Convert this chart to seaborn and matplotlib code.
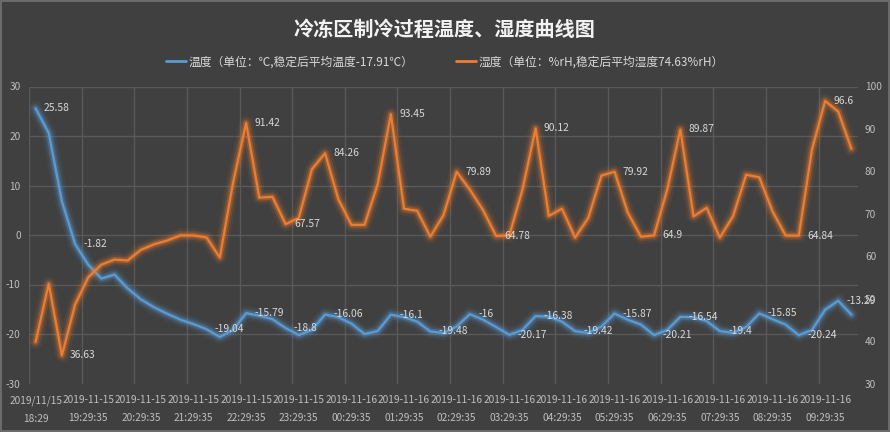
import numpy as np
import pandas as pd
import matplotlib
matplotlib.use("Agg")
import matplotlib.pyplot as plt
import matplotlib.patheffects as pe
from matplotlib.lines import Line2D
import seaborn as sns

# =========================================
# DATA (15 min steps)
# =========================================

temp = [25.58, 20.6, 6.8, -1.82, -6.0, -8.8, -8.0, -10.8, -13.0, -14.6,
        -15.9, -17.1, -18.0, -19.04, -20.6, -19.2, -15.79, -16.3, -17.0, -18.8,
        -20.2, -19.2, -16.06, -16.6, -17.9, -20.0, -19.4, -16.1, -16.6, -17.5,
        -19.48, -19.8, -18.5, -16.0, -17.1, -18.6, -20.17, -19.2, -16.38, -16.5,
        -17.5, -19.42, -19.8, -18.5, -15.87, -17.1, -18.1, -20.21, -19.2, -16.54,
        -16.6, -17.4, -19.4, -19.8, -18.6, -15.85, -17.0, -18.1, -20.24, -19.2,
        -15.1, -13.29, -16.1]

humid = [39.8, 53.5, 36.63, 48.6, 55.0, 58.0, 59.2, 59.0, 61.5, 62.8,
         63.7, 64.9, 64.9, 64.4, 59.7, 77.2, 91.42, 73.8, 74.0, 67.57,
         69.0, 80.5, 84.26, 73.5, 67.4, 67.4, 77.0, 93.45, 71.2, 70.7,
         64.6, 69.7, 79.89, 75.7, 70.9, 64.78, 64.9, 75.7, 90.12, 69.5,
         71.2, 64.4, 69.0, 79.0, 79.92, 70.3, 64.6, 64.9, 75.7, 89.87,
         69.4, 71.4, 64.4, 69.4, 79.2, 78.6, 70.6, 64.9, 64.84, 85.1,
         96.6, 94.1, 85.3]

# which points carry a value label
temp_label_idx = [0, 3, 13, 16, 19, 22, 27, 30, 33, 36, 38, 41, 44, 47, 49, 52, 55, 58, 61]
humid_label_idx = [2, 16, 19, 22, 27, 32, 35, 38, 44, 47, 49, 58, 60]

tick_labels = ["2019/11/15\n18:29"] + \
    [f"2019-11-15\n{h:02d}:29:35" for h in range(19, 24)] + \
    [f"2019-11-16\n{h:02d}:29:35" for h in range(0, 10)]

title = "冷冻区制冷过程温度、湿度曲线图"
temp_name = "温度（单位：℃,稳定后平均温度-17.91℃）"
humid_name = "湿度（单位：%rH,稳定后平均湿度74.63%rH）"

# =========================================
# STYLE
# =========================================

BG = "#404040"
GRID = "#595959"
TXT = "#d9d9d9"
TICK = "#bfbfbf"
BLUE = "#5b9bd5"
ORANGE = "#ed7d31"

sns.set_theme(style="dark")
plt.rcParams["font.family"] = ["Noto Sans CJK SC", "DejaVu Sans"]
plt.rcParams["axes.unicode_minus"] = False

df = pd.DataFrame({"idx": np.arange(len(temp)), "temp": temp, "humid": humid})

fig = plt.figure(figsize=(8.9, 4.32), dpi=100, facecolor=BG)
fig.patch.set_edgecolor("#6a6a6a")
fig.patch.set_linewidth(1.5)

ax = fig.add_axes([29 / 890, 1 - 383.5 / 432, (858 - 29) / 890, (383.5 - 86.5) / 432])
ax.set_facecolor(BG)
ax2 = ax.twinx()
ax2.patch.set_visible(False)


def glow(c):
    return [pe.Stroke(linewidth=10, foreground=c, alpha=0.08),
            pe.Stroke(linewidth=6.5, foreground=c, alpha=0.16),
            pe.Stroke(linewidth=4, foreground=c, alpha=0.3),
            pe.Normal()]


sns.lineplot(data=df, x="idx", y="temp", ax=ax, color=BLUE, lw=1.6)
ax.lines[-1].set_path_effects(glow(BLUE))
sns.lineplot(data=df, x="idx", y="humid", ax=ax2, color=ORANGE, lw=1.6)
ax2.lines[-1].set_path_effects(glow(ORANGE))

# value labels
for i in temp_label_idx:
    ax.annotate(f"{temp[i]:g}", (i, temp[i]), xytext=(6, 0), textcoords="offset points",
                ha="left", va="center", fontsize=7.4, color=TXT, zorder=5)
for i in humid_label_idx:
    ax2.annotate(f"{humid[i]:g}", (i, humid[i]), xytext=(6, 0), textcoords="offset points",
                 ha="left", va="center", fontsize=7.4, color=TXT, zorder=5)

# axes
n = len(temp)
ax.set_xlim(-0.5, n - 0.5)
ax.set_ylim(-30, 30)
ax2.set_ylim(30, 100)
ax.set_yticks(np.arange(-30, 31, 10))
ax2.set_yticks(np.arange(30, 101, 10))
ax.set_xticks(np.arange(0, n, 4))
ax.set_xticklabels(tick_labels, linespacing=2.0)
ax.set_xticks(np.arange(-0.5, n - 1, 4), minor=True)

ax.grid(False)
ax2.grid(False)
ax.grid(axis="y", which="major", color=GRID, lw=1)
ax.grid(axis="x", which="minor", color=GRID, lw=1)
ax.yaxis.get_gridlines()[0].set_visible(False)

for a in (ax, ax2):
    for s in a.spines.values():
        s.set_visible(False)
    a.set_xlabel("")
    a.set_ylabel("")
ax.tick_params(axis="x", which="both", length=0, pad=8.5, labelsize=7.3, colors=TICK)
ax.tick_params(axis="y", length=0, pad=6, labelsize=7.3, colors=TICK)
ax2.tick_params(axis="y", length=0, pad=5, labelsize=7.3, colors=TICK)

# title + legend
fig.text(0.5, 1 - 29 / 432, title, ha="center", va="center", fontsize=14.5,
         fontweight="bold", color="#f2f2f2")
handles = [Line2D([], [], color=BLUE, lw=2), Line2D([], [], color=ORANGE, lw=2)]
leg = fig.legend(handles, [temp_name, humid_name], loc="center", bbox_to_anchor=(0.5, 1 - 62 / 432),
                 ncol=2, frameon=False, fontsize=8.5, labelcolor=TXT, handlelength=1.7,
                 handletextpad=0.2, columnspacing=3.6, borderpad=0)

fig.savefig("out.png", dpi=100, facecolor=BG, edgecolor=fig.patch.get_edgecolor())
